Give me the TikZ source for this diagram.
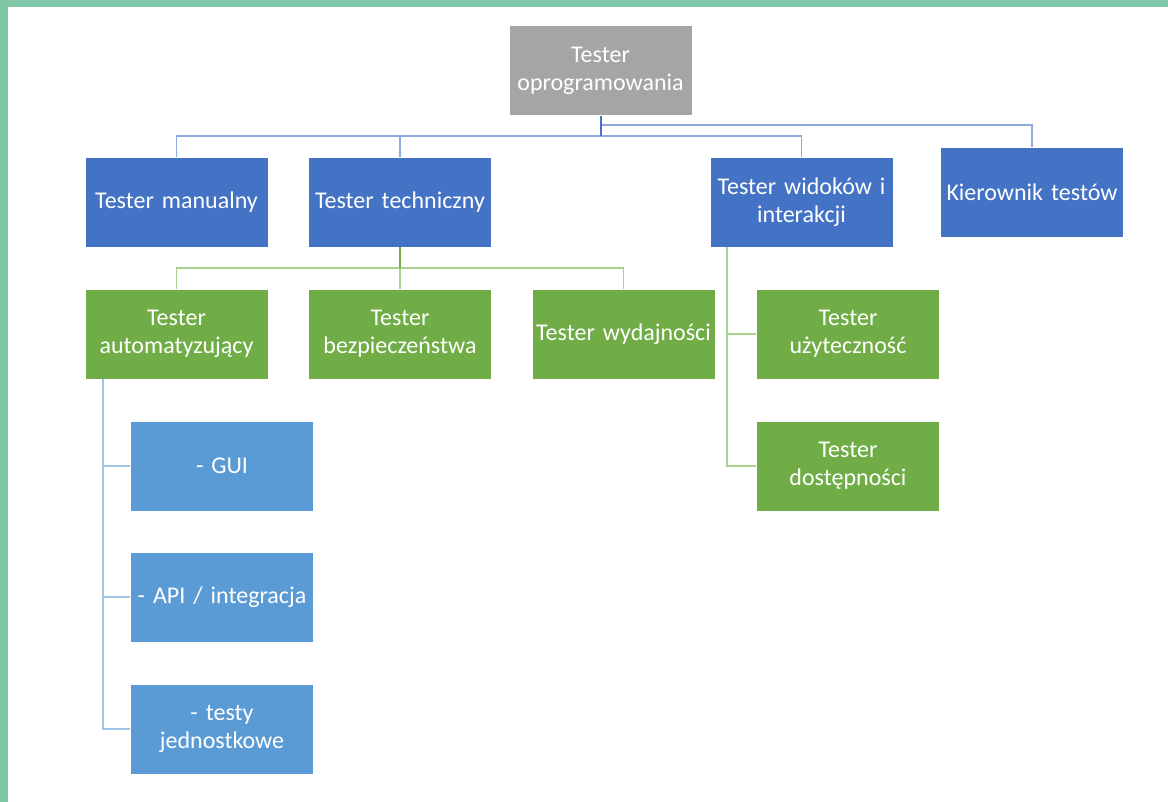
\documentclass[tikz,border=0pt]{standalone}
\usepackage{fontspec}
\setmainfont{Carlito}
\definecolor{bordergreen}{HTML}{80C7A7}
\definecolor{rootgray}{HTML}{A5A5A5}
\definecolor{darkblue}{HTML}{4472C4}
\definecolor{midgreen}{HTML}{70AD47}
\definecolor{lightblue}{HTML}{5B9BD5}
\definecolor{lineblue}{HTML}{8FAADC}
\definecolor{linegreen}{HTML}{A9D18E}
\definecolor{linelblue}{HTML}{9DC3E6}
\begin{document}
\begin{tikzpicture}[x=1pt,y=-1pt,
  box/.style={draw=white, line width=0.8pt, minimum width=183pt, minimum height=90pt,
    text width=180pt, align=center, text=white, inner sep=0pt,
    font=\fontsize{24}{28}\selectfont},
  graybox/.style={box, fill=rootgray},
  bluebox/.style={box, fill=darkblue},
  greenbox/.style={box, fill=midgreen},
  lbox/.style={box, fill=lightblue},
  bline/.style={draw=lineblue, line width=1.8pt},
  rootline/.style={draw=darkblue, line width=2pt},
  gline/.style={draw=linegreen, line width=1.8pt},
  gdark/.style={draw=midgreen, line width=2pt},
  lline/.style={draw=linelblue, line width=1.8pt}]
\useasboundingbox (0,0) rectangle (1168,802);
\fill[white] (0,0) rectangle (1168,802);
\fill[bordergreen] (0,0) rectangle (8,802);
\fill[bordergreen] (0,0) rectangle (1168,7);

\node[graybox] (root) at (600.5,70.5) {Tester\\oprogramowania};
\node[bluebox] (man) at (176.5,202) {Tester manualny};
\node[bluebox] (tech) at (400,202) {Tester techniczny};
\node[bluebox] (wid) at (801.5,202) {Tester widoków i\\interakcji};
\node[bluebox] (kier) at (1032,192) {Kierownik testów};

\node[greenbox] (auto) at (176.5,334) {Tester\\automatyzujący};
\node[greenbox] (bez) at (400,334) {Tester\\bezpieczeństwa};
\node[greenbox] (wyd) at (623.5,334) {Tester wydajności};
\node[greenbox] (uzy) at (848,334) {Tester\\użyteczność};
\node[greenbox] (dos) at (848,466) {Tester\\dostępności};

\node[lbox] (gui) at (222,466) {- GUI};
\node[lbox] (api) at (222,597) {- API / integracja};
\node[lbox] (unit) at (222,729) {- testy\\jednostkowe};

% top level connectors
\coordinate (j1) at (600.5,136);
\coordinate (j2) at (600.5,125);
\draw[bline] (j1) -| (man.north);
\draw[bline] (j1) -| (tech.north);
\draw[bline] (j1) -| (wid.north);
\draw[bline] (j2) -| (kier.north);
\draw[rootline] (root.south) -- (j1);

% technical children
\coordinate (j3) at (400,268);
\draw[gline] (j3) -| (auto.north);
\draw[gline] (j3) -| (bez.north);
\draw[gline] (j3) -| (wyd.north);
\draw[gdark] (tech.south) -- (j3);

% view children
\coordinate (w0) at (727,247);
\draw[gline] (w0) |- (uzy.west);
\draw[gline] (w0) |- (dos.west);

% automation children
\coordinate (a0) at (103,379);
\draw[lline] (a0) |- (gui.west);
\draw[lline] (a0) |- (api.west);
\draw[lline] (a0) |- (unit.west);
\end{tikzpicture}
\end{document}
